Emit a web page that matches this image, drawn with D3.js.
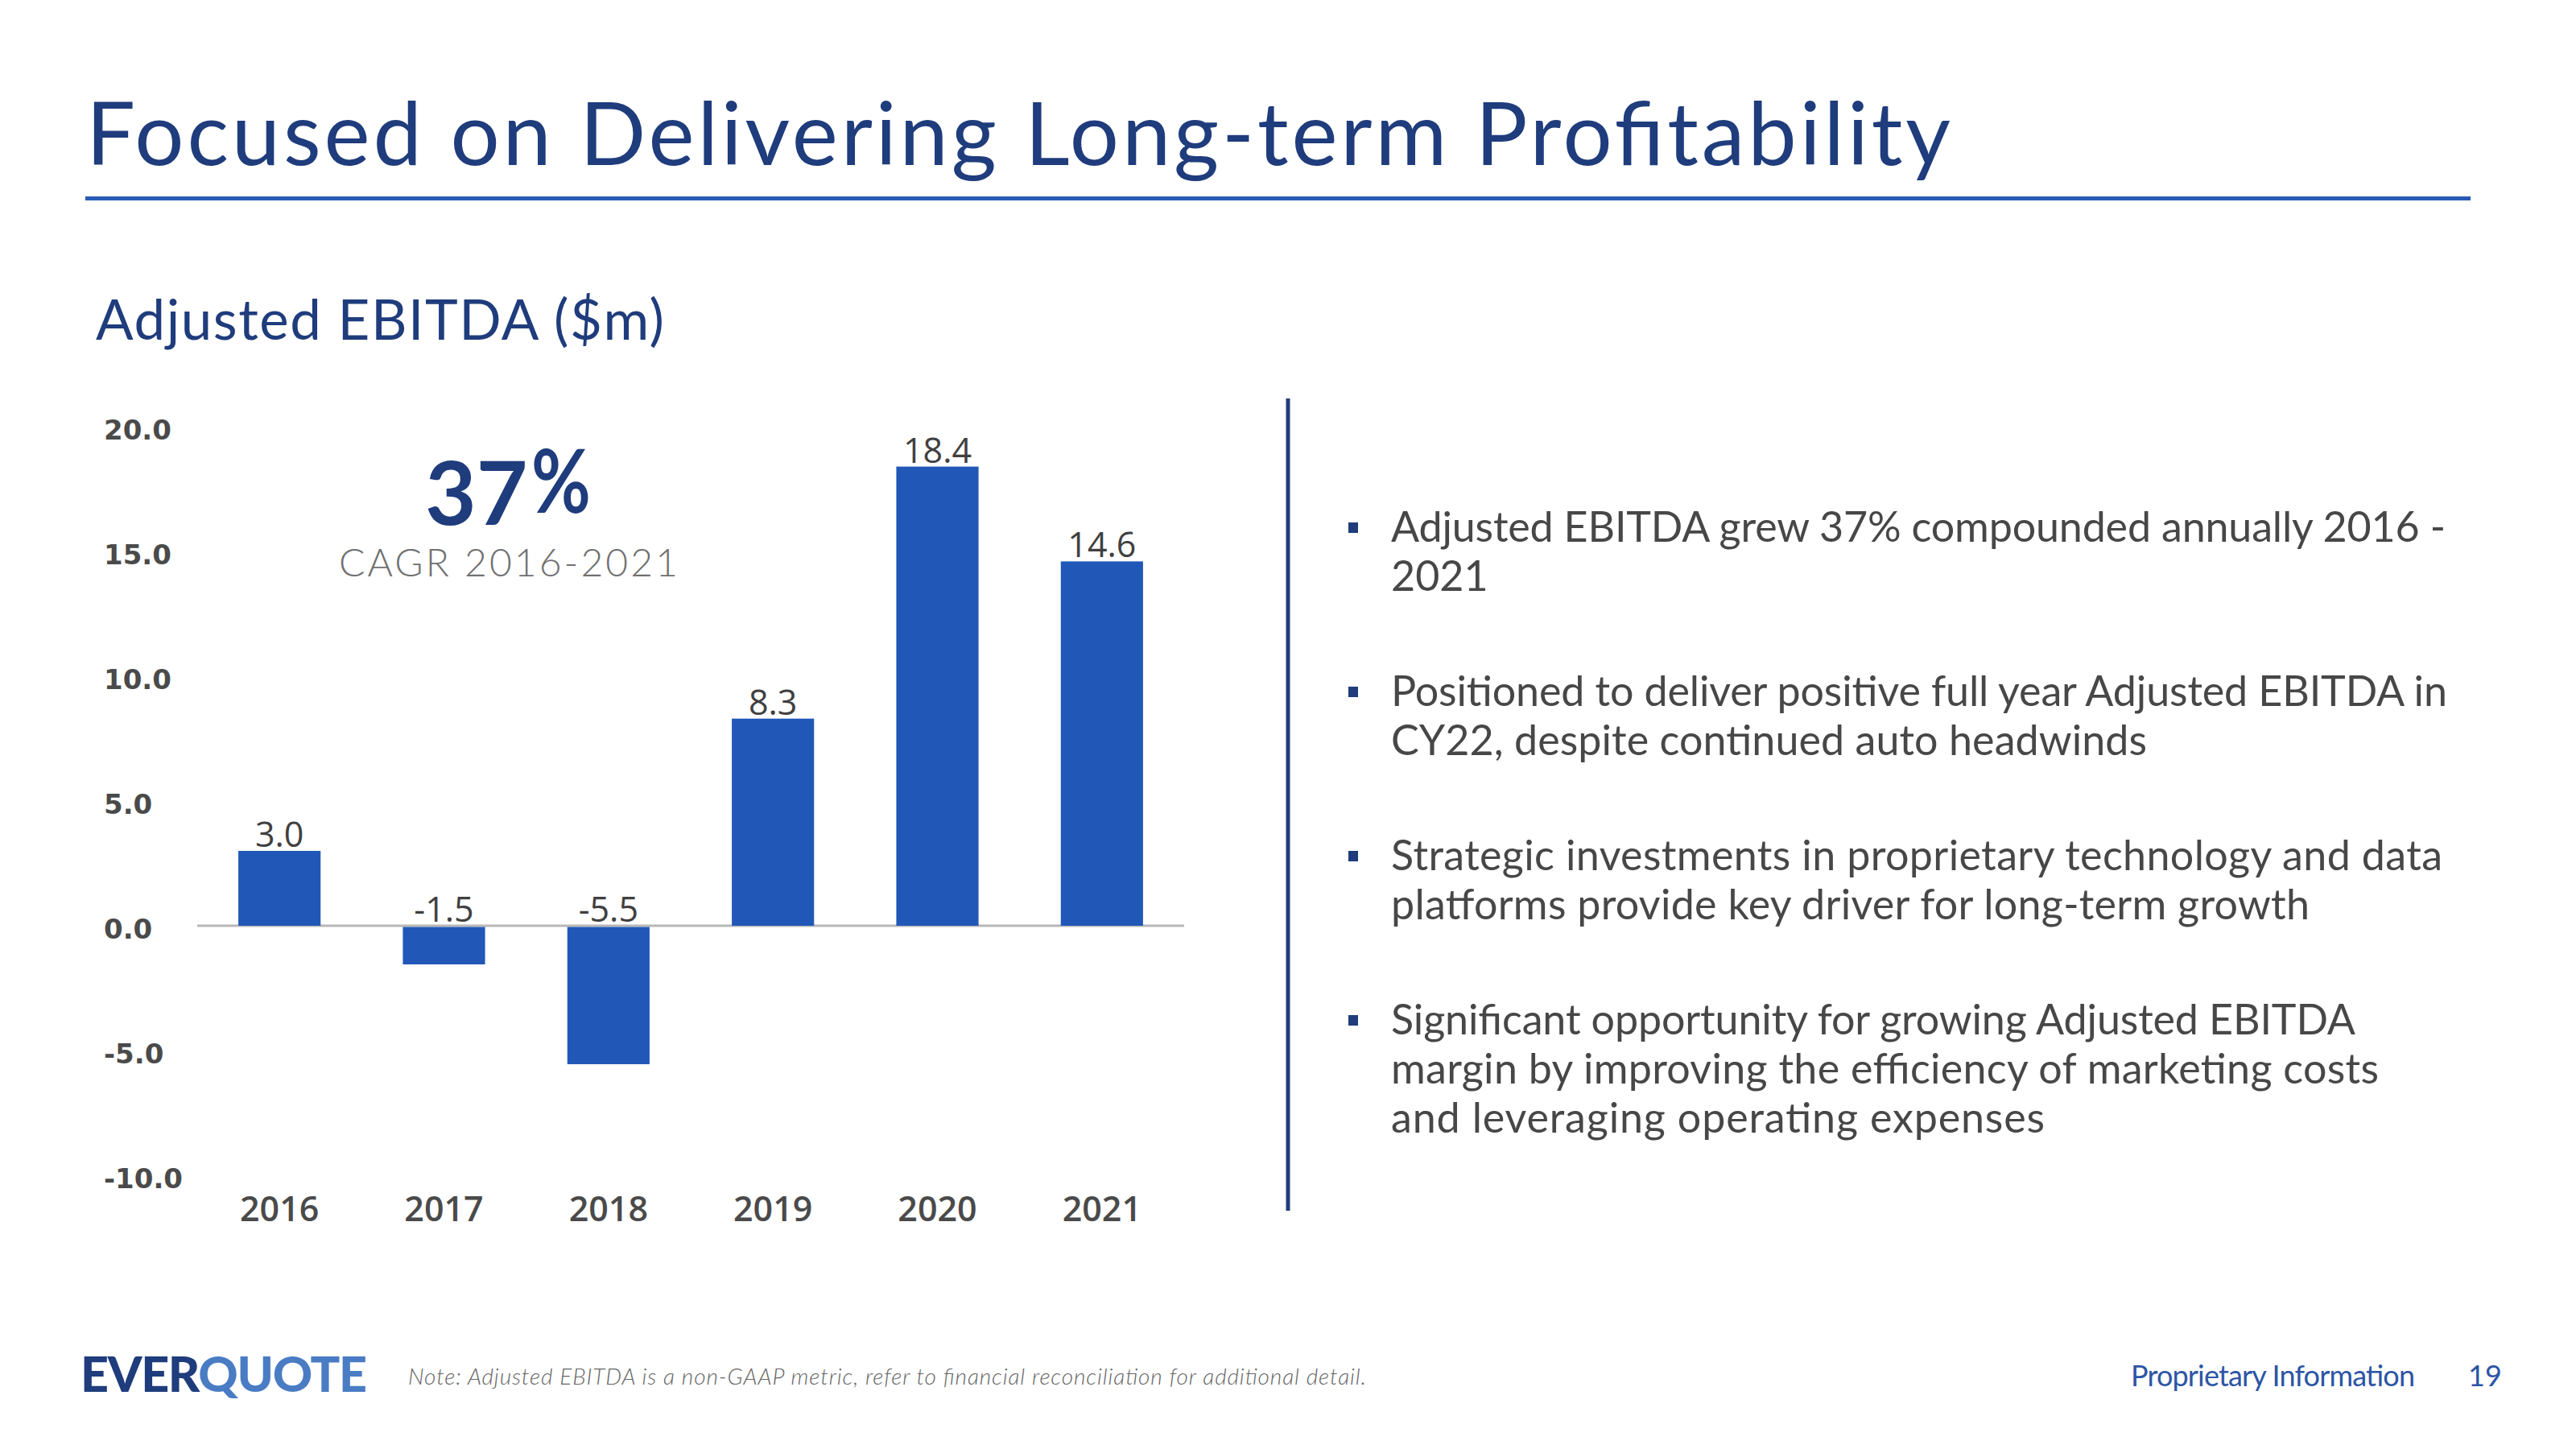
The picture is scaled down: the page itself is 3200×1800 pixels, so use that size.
<!DOCTYPE html>
<html>
<head>
<meta charset="utf-8">
<script src="https://cdn.jsdelivr.net/npm/d3@7"></script>
<style>
  html, body { margin: 0; padding: 0; background: #ffffff; }
  svg { display: block; }
</style>
</head>
<body>
<svg id="chart" width="3200" height="1800"></svg>
<script>
// ---------------- data ----------------
const years = ["2016", "2017", "2018", "2019", "2020", "2021"];
const ebitda = [3.0, -1.5, -5.5, 8.3, 18.4, 14.6];
const valueLabels = ["3.0", "-1.5", "-5.5", "8.3", "18.4", "14.6"];
const yTicks = [20, 15, 10, 5, 0, -5, -10];
const yTickLabels = ["20.0", "15.0", "10.0", "5.0", "0.0", "-5.0", "-10.0"];
const yDomain = [-10, 20];

const titleText = "Focused on Delivering Long-term Profitability";
const subtitleText = "Adjusted EBITDA ($m)";
const cagrValue = "37";
const cagrSign = "%";
const cagrLabel = "CAGR 2016-2021";
const bullets = [
  ["Adjusted EBITDA grew 37% compounded annually 2016 -", "2021"],
  ["Positioned to deliver positive full year Adjusted EBITDA in", "CY22, despite continued auto headwinds"],
  ["Strategic investments in proprietary technology and data", "platforms provide key driver for long-term growth"],
  ["Significant opportunity for growing Adjusted EBITDA", "margin by improving the efficiency of marketing costs", "and leveraging operating expenses"]
];
const noteText = "Note: Adjusted EBITDA is a non-GAAP metric, refer to financial reconciliation for additional detail.";
const logoParts = ["EVER", "QUOTE"];
const footerRight = "Proprietary Information";
const pageNumber = "19";

// ---------------- layout ----------------
const bulletLineWidths = [[1310, null], [1312, 939], [1306, 1141], [1198, 1227, 812]];
const NAVY = "#1f3c7c";
const BAR = "#2158b8";
const GRAY_TEXT = "#4a4a4a";

const svg = d3.select("#chart");

function fit(sel, w) {
  if (w) sel.attr("textLength", w).attr("lengthAdjust", "spacing");
  return sel;
}

// Title
fit(svg.append("text")
  .attr("x", 107).attr("y", 205)
  .attr("font-family", "Lato").attr("font-weight", 400)
  .attr("font-size", 108).attr("fill", NAVY)
  .text(titleText), 2316);

svg.append("rect")
  .attr("x", 106).attr("y", 244).attr("width", 2963).attr("height", 5)
  .attr("fill", "#2a5bb4");

// Subtitle
fit(svg.append("text")
  .attr("x", 119).attr("y", 422)
  .attr("font-family", "Lato").attr("font-weight", 400)
  .attr("font-size", 69).attr("fill", NAVY)
  .text(subtitleText), 706);

// ---------------- chart ----------------
const x = d3.scaleBand().domain(years).range([245, 1471]).paddingInner(0.5).paddingOuter(0.25);
const y = d3.scaleLinear().domain(yDomain).range([1460, 530]);

const g = svg.append("g");

// zero line
g.append("line")
  .attr("x1", 245).attr("x2", 1471)
  .attr("y1", y(0)).attr("y2", y(0))
  .attr("stroke", "#b7b7b7").attr("stroke-width", 3);

// bars
g.selectAll("rect.bar").data(ebitda).enter().append("rect")
  .attr("class", "bar")
  .attr("x", (d, i) => x(years[i]))
  .attr("width", x.bandwidth())
  .attr("y", d => Math.min(y(d), y(0) + (d < 0 ? 1.5 : 0)))
  .attr("height", d => Math.abs(y(d) - y(0)))
  .attr("fill", BAR);

// value labels
g.selectAll("text.val").data(ebitda).enter().append("text")
  .attr("class", "val")
  .attr("x", (d, i) => x(years[i]) + x.bandwidth() / 2)
  .attr("y", d => (d >= 0 ? y(d) : y(0)) - 5)
  .attr("text-anchor", "middle")
  .attr("font-family", "Open Sans").attr("font-weight", 500)
  .attr("font-size", 43).attr("fill", "#404040")
  .text((d, i) => valueLabels[i]);

// y axis
const yAxis = d3.axisLeft(y).tickValues(yTicks).tickSize(0)
  .tickFormat((d, i) => yTickLabels[i]);
const yg = g.append("g").attr("transform", "translate(245,0)").call(yAxis);
yg.select(".domain").remove();
yg.selectAll(".tick text")
  .attr("x", 129 - 245).attr("dy", "0.36em").attr("y", 3)
  .attr("text-anchor", "start")
  .attr("font-family", "DejaVu Sans").attr("font-weight", 700)
  .attr("font-size", 34).attr("fill", GRAY_TEXT);

// x axis
const xAxis = d3.axisBottom(x).tickSize(0).tickPadding(0);
const xg = g.append("g").attr("transform", "translate(0,1517)").call(xAxis);
xg.select(".domain").remove();
xg.selectAll(".tick text")
  .attr("y", 0).attr("dy", 0)
  .attr("font-family", "Open Sans").attr("font-weight", 600)
  .attr("font-size", 43).attr("fill", GRAY_TEXT);

// CAGR annotation
svg.append("text")
  .attr("x", 528).attr("y", 652)
  .attr("font-family", "Lato").attr("font-weight", 700)
  .attr("font-size", 110).attr("fill", NAVY)
  .text(cagrValue);
svg.append("text")
  .attr("transform", "translate(660,637) scale(0.82,1)")
  .attr("font-family", "Lato").attr("font-weight", 700)
  .attr("font-size", 110).attr("fill", NAVY)
  .text(cagrSign);
fit(svg.append("text")
  .attr("x", 421).attr("y", 716)
  .attr("font-family", "Lato").attr("font-weight", 300)
  .attr("font-size", 48).attr("fill", "#707070")
  .text(cagrLabel), 421);

// divider
svg.append("line")
  .attr("x1", 1600).attr("x2", 1600).attr("y1", 495).attr("y2", 1504)
  .attr("stroke", NAVY).attr("stroke-width", 5);

// bullets
const bg = svg.append("g");
bullets.forEach((lines, bi) => {
  const base = 673 + bi * 204;
  bg.append("rect")
    .attr("x", 1675).attr("y", base - 24).attr("width", 12).attr("height", 13)
    .attr("fill", NAVY);
  lines.forEach((ln, li) => {
    fit(bg.append("text")
      .attr("x", 1728).attr("y", base + li * 61)
      .attr("font-family", "Lato").attr("font-weight", 400)
      .attr("font-size", 52).attr("fill", "#474747")
      .text(ln), bulletLineWidths[bi][li]);
  });
});

// footer
const logo = svg.append("text")
  .attr("x", 100).attr("y", 1729)
  .attr("font-family", "Lato").attr("font-weight", 900)
  .attr("font-size", 61);
logo.append("tspan").attr("fill", NAVY).text(logoParts[0]);
logo.append("tspan").attr("fill", "#4a7cc4").text(logoParts[1]);
fit(logo, 356);

fit(svg.append("text")
  .attr("x", 507).attr("y", 1720)
  .attr("font-family", "Lato").attr("font-style", "italic").attr("font-weight", 300)
  .attr("font-size", 28).attr("fill", "#666666")
  .text(noteText), 1190);

fit(svg.append("text")
  .attr("x", 2647).attr("y", 1722)
  .attr("font-family", "Lato").attr("font-weight", 400)
  .attr("font-size", 36).attr("fill", "#2d55a5")
  .text(footerRight), 353);

svg.append("text")
  .attr("x", 3066).attr("y", 1722)
  .attr("font-family", "Lato").attr("font-weight", 400)
  .attr("font-size", 36).attr("fill", "#2d55a5")
  .text(pageNumber);
</script>
</body>
</html>
